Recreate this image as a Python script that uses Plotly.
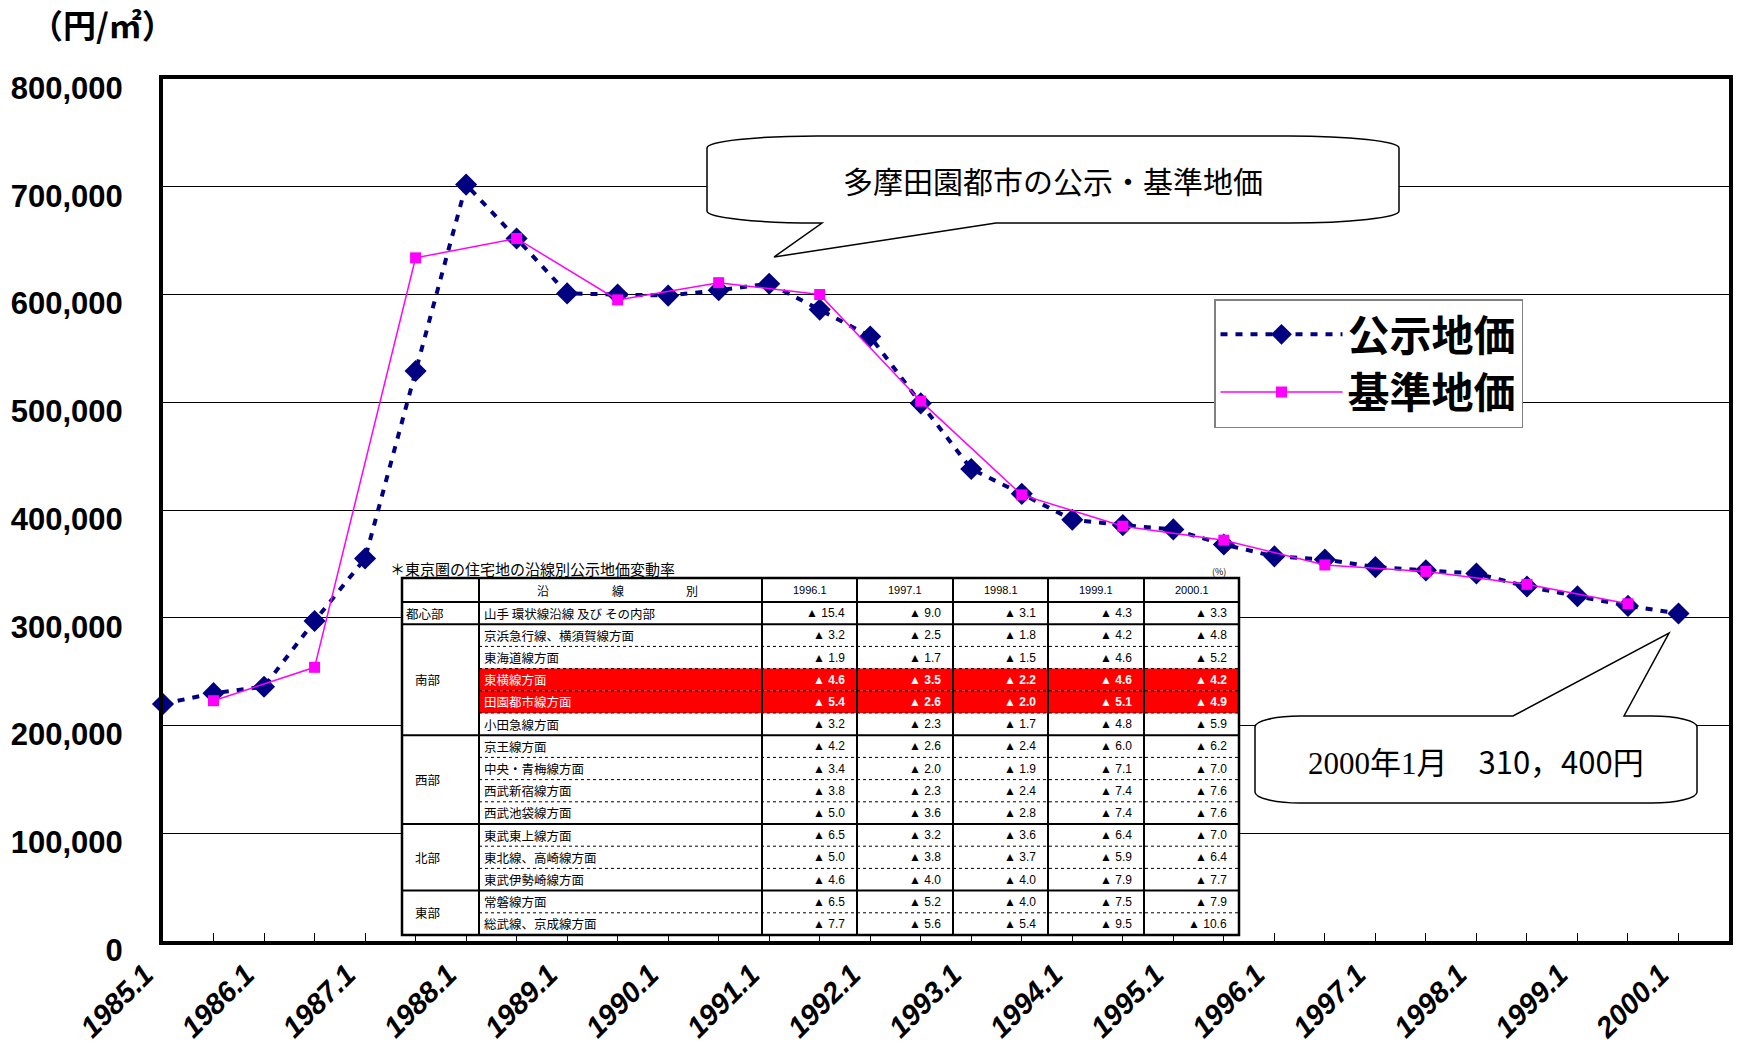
import plotly.graph_objects as go

# ---------------- data ----------------
periods = ["1985.1", "1985.7", "1986.1", "1986.7", "1987.1", "1987.7", "1988.1", "1988.7",
           "1989.1", "1989.7", "1990.1", "1990.7", "1991.1", "1991.7", "1992.1", "1992.7",
           "1993.1", "1993.7", "1994.1", "1994.7", "1995.1", "1995.7", "1996.1", "1996.7",
           "1997.1", "1997.7", "1998.1", "1998.7", "1999.1", "1999.7", "2000.1"]
koji_price = [220000, 230000, 236000, 297000, 355000, 529000, 702000, 652000,
              601000, 600000, 599000, 604000, 610000, 586000, 561000, 499000,
              438000, 415000, 391000, 386000, 382000, 368000, 357000, 354000,
              347000, 344000, 341000, 329000, 320000, 311000, 304000]
kijun_periods = ["1985.7", "1986.7", "1987.7", "1988.7", "1989.7", "1990.7", "1991.7", "1992.7",
                 "1993.7", "1994.7", "1995.7", "1996.7", "1997.7", "1998.7", "1999.7"]
kijun_price = [223000, 254000, 634000, 652000, 595000, 611000, 600000, 501000,
               414000, 385000, 372000, 349000, 343000, 331000, 313000]
tick_labels = [p if p.endswith(".1") else "" for p in periods]
y_ticks = [0, 100000, 200000, 300000, 400000, 500000, 600000, 700000, 800000]

series_names = ["公示地価", "基準地価"]
unit_label = "（円/㎡）"
callout_title = "多摩田園都市の公示・基準地価"
callout_last = ("<span style=\"font-family:'Liberation Serif','Noto Sans CJK JP'\">2000年1月</span>"
                "　310，400円")

# inset table
table_title = "＊東京圏の住宅地の沿線別公示地価変動率"
table_years = ["1996.1", "1997.1", "1998.1", "1999.1", "2000.1"]
region_names = ["都心部", "南部", "西部", "北部", "東部"]
region_sizes = [1, 5, 4, 3, 2]
line_names = ["山手 環状線沿線 及び その内部", "京浜急行線、横須賀線方面", "東海道線方面",
              "東横線方面", "田園都市線方面", "小田急線方面", "京王線方面", "中央・青梅線方面",
              "西武新宿線方面", "西武池袋線方面", "東武東上線方面", "東北線、高崎線方面",
              "東武伊勢崎線方面", "常磐線方面", "総武線、京成線方面"]
rate_1996 = [15.4, 3.2, 1.9, 4.6, 5.4, 3.2, 4.2, 3.4, 3.8, 5.0, 6.5, 5.0, 4.6, 6.5, 7.7]
rate_1997 = [9.0, 2.5, 1.7, 3.5, 2.6, 2.3, 2.6, 2.0, 2.3, 3.6, 3.2, 3.8, 4.0, 5.2, 5.6]
rate_1998 = [3.1, 1.8, 1.5, 2.2, 2.0, 1.7, 2.4, 1.9, 2.4, 2.8, 3.6, 3.7, 4.0, 4.0, 5.4]
rate_1999 = [4.3, 4.2, 4.6, 4.6, 5.1, 4.8, 6.0, 7.1, 7.4, 7.4, 6.4, 5.9, 7.9, 7.5, 9.5]
rate_2000 = [3.3, 4.8, 5.2, 4.2, 4.9, 5.9, 6.2, 7.0, 7.6, 7.6, 7.0, 6.4, 7.7, 7.9, 10.6]
highlight_lines = ["東横線方面", "田園都市線方面"]

# ---------------- geometry helpers ----------------
W, H = 1738, 1047
PL, PR, PT, PB = 163, 1729, 79, 941


def px(x):
    return (x - PL) / (PR - PL)


def py(y):
    return (PB - y) / (PB - PT)


JP = "Noto Sans CJK JP"
AX = "Liberation Sans, Arial, sans-serif"

x_index = {p: i for i, p in enumerate(periods)}

fig = go.Figure()
fig.add_trace(go.Scatter(
    x=[x_index[p] for p in periods], y=koji_price, name=series_names[0],
    mode="lines+markers", cliponaxis=False,
    line=dict(color="#000080", width=4, dash="7px,8px"),
    marker=dict(symbol="diamond", size=17, color="#000080"),
))
fig.add_trace(go.Scatter(
    x=[x_index[p] for p in kijun_periods], y=kijun_price, name=series_names[1],
    mode="lines+markers", cliponaxis=False,
    line=dict(color="#FF00FF", width=1.5),
    marker=dict(symbol="square", size=11, color="#FF00FF"),
))

shapes = []
annotations = []


def note(x, y, text, size, xanchor="center", family=JP, color="black", weight="normal"):
    annotations.append(dict(xref="paper", yref="paper", x=px(x), y=py(y), text=text,
                            xanchor=xanchor, yanchor="middle", showarrow=False,
                            font=dict(family=family, size=size, color=color, weight=weight)))


# ---------------- callouts ----------------
K = 0.5523


def bubble(x0, x1, y0, y1, rx, ry, tail, side):
    a, tip, b = tail
    pts = []
    pts.append(("M", [(x0, y0 + ry)]))
    pts.append(("C", [(x0, y0 + ry * (1 - K)), (x0 + rx * (1 - K), y0), (x0 + rx, y0)]))
    if side == "top":
        pts.append(("L", [(a, y0)]))
        pts.append(("L", [tip]))
        pts.append(("L", [(b, y0)]))
    pts.append(("L", [(x1 - rx, y0)]))
    pts.append(("C", [(x1 - rx * (1 - K), y0), (x1, y0 + ry * (1 - K)), (x1, y0 + ry)]))
    pts.append(("L", [(x1, y1 - ry)]))
    pts.append(("C", [(x1, y1 - ry * (1 - K)), (x1 - rx * (1 - K), y1), (x1 - rx, y1)]))
    if side == "bottom":
        pts.append(("L", [(b, y1)]))
        pts.append(("L", [tip]))
        pts.append(("L", [(a, y1)]))
    pts.append(("L", [(x0 + rx, y1)]))
    pts.append(("C", [(x0 + rx * (1 - K), y1), (x0, y1 - ry * (1 - K)), (x0, y1 - ry)]))
    s = ""
    for cmd, ps in pts:
        s += cmd + " ".join(f"{px(x):.5f},{py(y):.5f}" for x, y in ps) + " "
    return s + "Z"


shapes.append(dict(type="path", xref="paper", yref="paper", layer="above",
                   path=bubble(707, 1399, 136, 223, 110, 12, (822, (774, 257), 996), "bottom"),
                   line=dict(color="black", width=1.5), fillcolor="white"))
note(1053, 180, callout_title, 30)

shapes.append(dict(type="path", xref="paper", yref="paper", layer="above",
                   path=bubble(1255, 1697, 716, 803, 45, 11, (1513, (1669, 633), 1624), "top"),
                   line=dict(color="black", width=1.5), fillcolor="white"))
note(1476, 760, callout_last, 31)

# unit label
note(102, 24, unit_label, 33, weight="bold")

# ---------------- inset table ----------------
TX = [402, 479, 762, 857, 953, 1048, 1144, 1239]
T_TOP, T_HEAD, T_BOT = 578, 602, 935
RH = (T_BOT - T_HEAD) / len(line_names)


def rect(x0, x1, y0, y1, **kw):
    d = dict(type="rect", xref="paper", yref="paper", layer="above",
             x0=px(x0), x1=px(x1), y0=py(y1), y1=py(y0))
    d.update(kw)
    return d


def hline(x0, x1, y, width=2, dash="solid"):
    return dict(type="line", xref="paper", yref="paper", layer="above",
                x0=px(x0), x1=px(x1), y0=py(y), y1=py(y),
                line=dict(color="black", width=width, dash=dash))


def vline(x, y0, y1, width=2):
    return dict(type="line", xref="paper", yref="paper", layer="above",
                x0=px(x), x1=px(x), y0=py(y0), y1=py(y1),
                line=dict(color="black", width=width))


shapes.append(rect(TX[0], TX[-1], T_TOP, T_BOT, fillcolor="white", line=dict(width=0)))
for i, name in enumerate(line_names):
    if name in highlight_lines:
        shapes.append(rect(TX[1], TX[-1], T_HEAD + i * RH, T_HEAD + (i + 1) * RH,
                           fillcolor="#FF0000", line=dict(width=0)))

group_starts = []
acc = 0
for s in region_sizes:
    group_starts.append(acc)
    acc += s
for i in range(1, len(line_names)):
    y = T_HEAD + i * RH
    if i in group_starts:
        shapes.append(hline(TX[0], TX[-1], y, width=2))
    else:
        shapes.append(hline(TX[1], TX[-1], y, width=1, dash="dot"))
shapes.append(hline(TX[0], TX[-1], T_HEAD, width=2))
for x in TX[1:-1]:
    shapes.append(vline(x, T_TOP, T_BOT, width=2))
shapes.append(rect(TX[0], TX[-1], T_TOP, T_BOT, line=dict(color="black", width=2.5)))

note(388, 568, table_title, 15, xanchor="left")
note(1219, 571, "(%)", 9)
head_y = (T_TOP + T_HEAD) / 2
for ch, x in zip(["沿", "線", "別"], [543, 618, 692]):
    note(x, head_y, ch, 12)
for j, yr in enumerate(table_years):
    note((TX[j + 2] + TX[j + 3]) / 2, head_y, yr, 11, family="Liberation Sans")

for g, (rname, start) in enumerate(zip(region_names, group_starts)):
    yc = T_HEAD + (start + region_sizes[g] / 2) * RH
    note(404 if region_sizes[g] == 1 else 413, yc, rname, 12.5, xanchor="left")

rate_cols = [rate_1996, rate_1997, rate_1998, rate_1999, rate_2000]
for i, name in enumerate(line_names):
    yc = T_HEAD + (i + 0.5) * RH
    hl = name in highlight_lines
    col = "white" if hl else "black"
    wt = "bold" if hl else "normal"
    note(482, yc, name, 12.5, xanchor="left", color=col)
    for j, rates in enumerate(rate_cols):
        note(TX[j + 3] - 10, yc, f"▲ {rates[i]:.1f}", 12, xanchor="right",
             family="Liberation Sans, " + JP, color=col, weight=wt)

# ---------------- layout ----------------
fig.update_layout(
    width=W, height=H,
    margin=dict(l=PL, r=W - PR, t=PT, b=H - PB, autoexpand=False),
    paper_bgcolor="white", plot_bgcolor="white",
    showlegend=True,
    legend=dict(x=px(1214), y=py(299), xanchor="left", yanchor="top",
                bgcolor="white", bordercolor="#808080", borderwidth=1.5,
                font=dict(family=JP, size=42, color="black", weight="bold"),
                itemwidth=122, tracegroupgap=0),
    xaxis=dict(range=[0, len(periods)], tickmode="array", automargin=False,
               tickvals=list(range(len(periods))), ticktext=tick_labels,
               tickangle=-45, ticks="inside", ticklen=8, tickwidth=1, tickcolor="black",
               showgrid=False, zeroline=False,
               showline=True, linewidth=4, linecolor="black", mirror=True,
               ticklabelstandoff=1, ticklabelshift=-18,
               tickfont=dict(family=AX, size=29, color="black", weight="bold", style="italic")),
    yaxis=dict(range=[0, 800000], tickmode="array", tickvals=y_ticks, automargin=False,
               tickformat=",d", showgrid=True, gridcolor="black", gridwidth=1,
               zeroline=False, ticks="",
               showline=True, linewidth=4, linecolor="black", mirror=True,
               ticklabelstandoff=30, ticklabelshift=9,
               tickfont=dict(family=AX, size=31, color="black", weight="bold")),
    shapes=shapes,
    annotations=annotations,
)

fig.write_html("out.html", config={"displayModeBar": False},
               post_script="document.body.style.margin='0';document.body.style.overflow='hidden';")
